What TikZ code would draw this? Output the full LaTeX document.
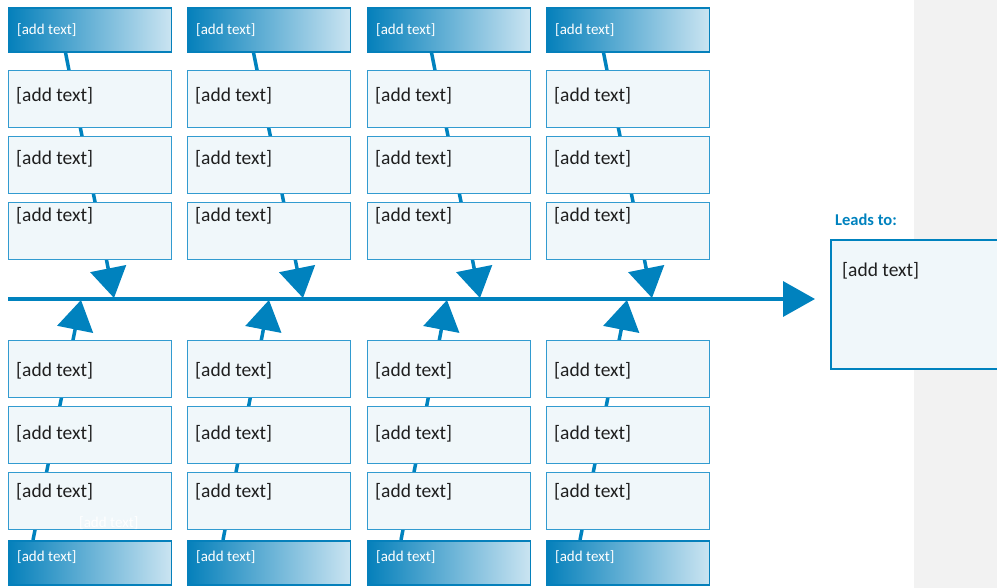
\documentclass[tikz,border=0pt]{standalone}
\usepackage{fontspec}
\setmainfont{Carlito}
\usetikzlibrary{arrows.meta}

\definecolor{fishblue}{RGB}{0,130,190}
\definecolor{boxfill}{RGB}{240,247,250}
\definecolor{boxline}{RGB}{50,155,208}
\definecolor{headdark}{RGB}{5,128,187}
\definecolor{headmid}{RGB}{70,158,206}
\definecolor{headlight}{RGB}{202,228,241}
\definecolor{panelgrey}{RGB}{242,242,242}

\tikzset{
  causebox/.style={draw=boxline, line width=1.1pt, fill=boxfill, anchor=north west,
    minimum width=162.5pt, minimum height=57pt, inner sep=0pt},
  headbox/.style={draw=headdark, line width=1.6pt, left color=headdark, middle color=headmid,
    right color=headlight, anchor=north west, minimum width=162.5pt, minimum height=44pt,
    inner sep=0pt},
  effectbox/.style={draw=fishblue, line width=1.8pt, fill=boxfill, anchor=north west,
    minimum width=175pt, minimum height=129pt, inner sep=0pt},
  bodytext/.style={anchor=west, inner sep=0pt, text=black!88,
    font=\fontsize{19.5}{21}\selectfont},
  headtext/.style={anchor=west, inner sep=0pt, text=white,
    font=\fontsize{15}{17}\selectfont},
  leadtext/.style={anchor=west, inner sep=0pt, text=fishblue,
    font=\bfseries\fontsize{16.5}{18}\selectfont},
  spoke/.style={draw=fishblue, line width=3.5pt, -{Triangle[length=30pt,width=36pt]}},
  spine/.style={draw=fishblue, line width=3.5pt, -{Triangle[length=32pt,width=35pt]}},
}

\begin{document}
\begin{tikzpicture}[x=1pt, y=-1pt]
  \useasboundingbox (0,0) rectangle (997,588);

  % grey side panel
  \fill[panelgrey] (914,0) rectangle (997,588);

  % main spine
  \coordinate (spineL) at (8,299);
  \coordinate (spineR) at (815,299);
  \draw[spine] (spineL) -- (spineR);

  % slanted bones, drawn before the boxes so the boxes sit on top
  \foreach \i/\ts/\te/\bs/\be in {1/65/114/33/81, 2/253/303/223/269,
                                  3/431/480/401/447, 4/603/652/580/627} {
    \coordinate (topstart\i) at (\ts,50);
    \coordinate (toptip\i) at (\te,298);
    \coordinate (botstart\i) at (\bs,540);
    \coordinate (bottip\i) at (\be,300);
    \draw[spoke] (topstart\i) -- (toptip\i);
    \draw[spoke] (botstart\i) -- (bottip\i);
  }

  % cause columns
  \foreach \i/\x in {1/8, 2/187, 3/367, 4/546} {
    % top header
    \node[headbox] (headtop\i) at (\x,7) {};
    \node[headtext] (headtoptext\i) at (\x+9,30) {[add text]};
    % top causes
    \node[causebox] (topA\i) at (\x,70) {};
    \node[bodytext] (topAtext\i) at (\x+8,96) {[add text]};
    \node[causebox] (topB\i) at (\x,136) {};
    \node[bodytext] (topBtext\i) at (\x+8,159) {[add text]};
    \node[causebox] (topC\i) at (\x,202) {};
    \node[bodytext] (topCtext\i) at (\x+8,216) {[add text]};
    % bottom causes
    \node[causebox] (botA\i) at (\x,340) {};
    \node[bodytext] (botAtext\i) at (\x+8,371) {[add text]};
    \node[causebox] (botB\i) at (\x,406) {};
    \node[bodytext] (botBtext\i) at (\x+8,434) {[add text]};
    \node[causebox] (botC\i) at (\x,472) {};
    \node[bodytext] (botCtext\i) at (\x+8,492) {[add text]};
    % bottom header
    \node[headbox] (headbot\i) at (\x,540) {};
    \node[headtext] (headbottext\i) at (\x+9,557) {[add text]};
  }

  % stray light label at the foot of the first column
  \node[headtext] (straytext) at (79,523) {[add text]};

  % effect
  \node[leadtext] (leadslabel) at (835,220) {Leads to:};
  \node[effectbox] (effect) at (830,239) {};
  \node[bodytext] (effecttext) at (842,271) {[add text]};
\end{tikzpicture}
\end{document}
